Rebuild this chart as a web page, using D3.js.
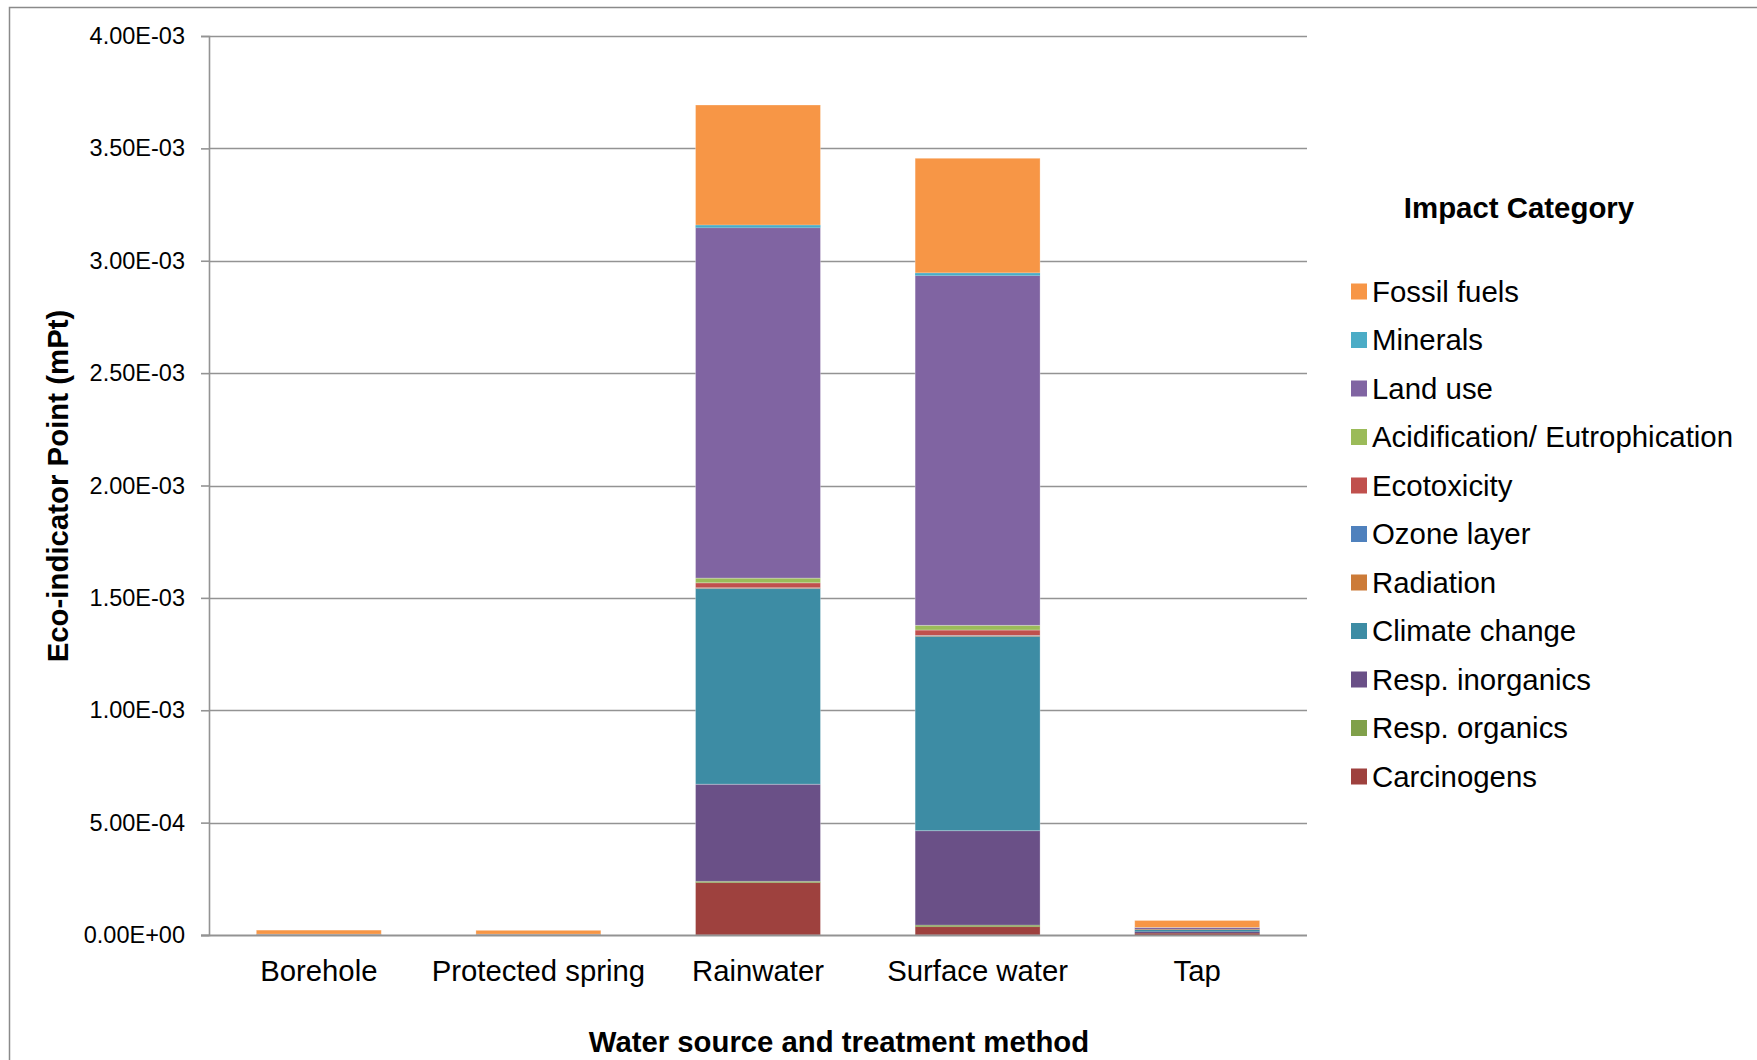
<!DOCTYPE html>
<html>
<head>
<meta charset="utf-8">
<script src="https://cdn.jsdelivr.net/npm/d3@7"></script>
<style>
  html, body { margin: 0; padding: 0; background: #fff; }
  svg { display: block; font-family: "Liberation Sans", Arial, sans-serif; }
</style>
</head>
<body>
<svg id="chart" width="1757" height="1060"></svg>
<script>
// ---- Data ----
const categories = ["Borehole", "Protected spring", "Rainwater", "Surface water", "Tap"];

// Impact categories, listed bottom of stack -> top of stack
const seriesNames = ["Carcinogens", "Resp. organics", "Resp. inorganics", "Climate change",
  "Radiation", "Ozone layer", "Ecotoxicity", "Acidification/ Eutrophication",
  "Land use", "Minerals", "Fossil fuels"];

// values per category (Borehole, Protected spring, Rainwater, Surface water, Tap), in Pt
const carcinogens     = [0.0000005, 0.0000005, 0.000233, 0.000037, 0.000008];
const respOrganics    = [0.0000001, 0.0000001, 0.000006, 0.000007, 0.0000003];
const respInorganics  = [0.000001,  0.000001,  0.000432, 0.000420, 0.000007];
const climateChange   = [0.000001,  0.000001,  0.000870, 0.000865, 0.000008];
const radiation       = [0.0000001, 0.0000001, 0.000002, 0.000002, 0.0000002];
const ozoneLayer      = [0.0000001, 0.0000001, 0.000002, 0.000002, 0.0000002];
const ecotoxicity     = [0.0000002, 0.0000002, 0.000022, 0.000024, 0.000002];
const acidification   = [0.0000002, 0.0000002, 0.000021, 0.000021, 0.000001];
const landUse         = [0.0000005, 0.0000005, 0.001559, 0.001556, 0.000006];
const minerals        = [0.0000001, 0.0000001, 0.000012, 0.000012, 0.000001];
const fossilFuels     = [0.000018,  0.000017,  0.000534, 0.000510, 0.000031];

const seriesValues = [carcinogens, respOrganics, respInorganics, climateChange, radiation,
  ozoneLayer, ecotoxicity, acidification, landUse, minerals, fossilFuels];

const seriesColors = ["#9E413E", "#80A04A", "#6A5087", "#3D8CA4", "#CC7B38",
  "#4F81BD", "#C0504D", "#9BBB59", "#8064A2", "#4BACC6", "#F79646"];

const yTicks = [0, 0.0005, 0.001, 0.0015, 0.002, 0.0025, 0.003, 0.0035, 0.004];
const yTitle = "Eco-indicator Point (mPt)";
const xTitle = "Water source and treatment method";
const legendTitle = "Impact Category";

// ---- Layout ----
const svg = d3.select("#chart");
const plot = { left: 209, right: 1307, top: 36, bottom: 935 };

// frame border
svg.append("path")
  .attr("d", `M9.5,1062 L9.5,7.5 L1760,7.5`)
  .attr("fill", "none").attr("stroke", "#8a8a8a").attr("stroke-width", 1.5);

const x = d3.scaleBand().domain(categories)
  .range([plot.left, plot.right]).paddingInner(0.431).paddingOuter(0.2155);
const y = d3.scaleLinear().domain([0, 0.004]).range([plot.bottom, plot.top]);

function fmtE(v) {
  const s = d3.format(".2e")(v); // e.g. 4.00e-3
  const [m, e] = s.split("e");
  const n = +e;
  const sign = n < 0 ? "-" : "+";
  return m + "E" + sign + String(Math.abs(n)).padStart(2, "0");
}

// gridlines
svg.append("g").selectAll("line").data(yTicks.filter(d => d > 0)).join("line")
  .attr("x1", plot.left).attr("x2", plot.right)
  .attr("y1", d => Math.round(y(d)) + 0.5).attr("y2", d => Math.round(y(d)) + 0.5)
  .attr("stroke", "#939393").attr("stroke-width", 1.6);

// y axis
const yAxis = svg.append("g").attr("transform", `translate(${plot.left},0)`)
  .call(d3.axisLeft(y).tickValues(yTicks).tickFormat(fmtE).tickSize(8).tickPadding(16));
yAxis.select(".domain").attr("stroke", "#939393").attr("stroke-width", 1.6);
yAxis.selectAll(".tick line").attr("stroke", "#939393").attr("stroke-width", 1.6);
yAxis.selectAll(".tick text").attr("font-size", 23.5).attr("fill", "#000")
  .attr("font-family", "Liberation Sans, Arial, sans-serif");

// stacked bars
const rows = categories.map((c, i) => {
  const r = { cat: c };
  seriesNames.forEach((s, j) => r[s] = seriesValues[j][i]);
  return r;
});
const stacked = d3.stack().keys(seriesNames)(rows);

const gBars = svg.append("g");
stacked.forEach((layer, j) => {
  gBars.append("g").attr("fill", seriesColors[j])
    .selectAll("rect").data(layer).join("rect")
    .attr("x", d => x(d.data.cat))
    .attr("width", x.bandwidth())
    .attr("y", d => y(d[1]))
    .attr("height", d => Math.max(0, y(d[0]) - y(d[1])))
    .attr("stroke", d => (y(d[0]) - y(d[1])) > 3 ? "#ffffff" : "none")
    .attr("stroke-opacity", 0.35).attr("stroke-width", 0.8);
});

// x axis baseline
svg.append("line")
  .attr("x1", plot.left - 8).attr("x2", plot.right)
  .attr("y1", plot.bottom + 0.5).attr("y2", plot.bottom + 0.5)
  .attr("stroke", "#939393").attr("stroke-width", 2.2);

// category labels
svg.append("g").selectAll("text").data(categories).join("text")
  .attr("x", d => x(d) + x.bandwidth() / 2)
  .attr("y", 981)
  .attr("text-anchor", "middle")
  .attr("font-size", 29.3).attr("fill", "#000")
  .text(d => d);

// axis titles
svg.append("text")
  .attr("x", 839).attr("y", 1052)
  .attr("text-anchor", "middle")
  .attr("font-size", 29.3).attr("font-weight", "bold").attr("fill", "#000")
  .text(xTitle);

svg.append("text")
  .attr("transform", "translate(68,486) rotate(-90)")
  .attr("text-anchor", "middle")
  .attr("font-size", 29.4).attr("font-weight", "bold").attr("fill", "#000")
  .text(yTitle);

// legend
svg.append("text")
  .attr("x", 1519).attr("y", 218)
  .attr("text-anchor", "middle")
  .attr("font-size", 29.4).attr("font-weight", "bold").attr("fill", "#000")
  .text(legendTitle);

const legendOrder = seriesNames.map((s, j) => ({ name: s, color: seriesColors[j] })).reverse();
const lg = svg.append("g").selectAll("g").data(legendOrder).join("g")
  .attr("transform", (d, i) => `translate(1351,${291.5 + i * 48.5})`);
lg.append("rect").attr("x", 0).attr("y", -8).attr("width", 16).attr("height", 16)
  .attr("fill", d => d.color);
lg.append("text").attr("x", 21).attr("y", 10)
  .attr("font-size", 29.4).attr("fill", "#000")
  .text(d => d.name);
</script>
</body>
</html>
